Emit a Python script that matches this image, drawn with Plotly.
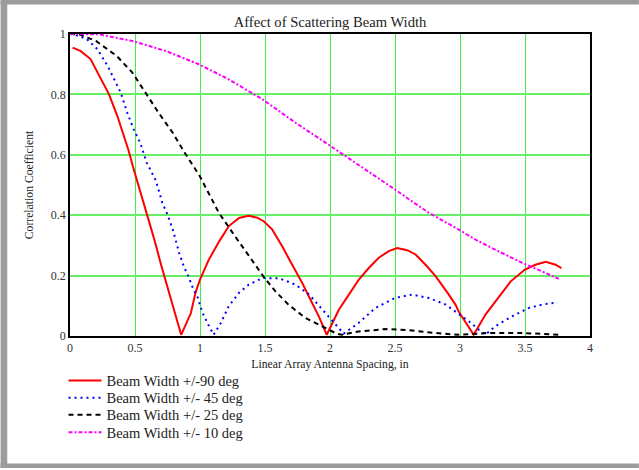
import plotly.graph_objects as go

# Beam Width +/-90 deg (red, solid)
x90 = [0.02, 0.08, 0.158, 0.235, 0.30, 0.363, 0.45, 0.49, 0.542, 0.594, 0.645, 0.70, 0.75, 0.79, 0.855,
       0.93, 0.965, 1.0, 1.068, 1.15, 1.222, 1.30, 1.375, 1.44, 1.49, 1.555, 1.632, 1.709, 1.786,
       1.85, 1.914, 1.975,
       2.068, 2.145, 2.222, 2.30, 2.375, 2.452, 2.517, 2.594, 2.658, 2.735, 2.812, 2.914, 2.965,
       2.991, 3.105,
       3.196, 3.30, 3.39, 3.50, 3.58, 3.66, 3.735, 3.78]
y90 = [0.955, 0.944, 0.917, 0.856, 0.80, 0.73, 0.615, 0.552, 0.474, 0.405, 0.325, 0.237, 0.162, 0.098, 0.004,
       0.076, 0.143, 0.187, 0.253, 0.315, 0.364, 0.391, 0.398, 0.392, 0.38, 0.353, 0.297, 0.236, 0.176,
       0.12, 0.065, 0.004,
       0.087, 0.137, 0.187, 0.226, 0.259, 0.281, 0.291, 0.284, 0.27, 0.236, 0.198, 0.137, 0.104,
       0.08, 0.004,
       0.071, 0.131, 0.181, 0.22, 0.236, 0.246, 0.236, 0.225]

# Beam Width +/- 45 deg (blue, dotted)
x45 = [0.0, 0.03, 0.13, 0.21, 0.29, 0.35, 0.39, 0.44, 0.49, 0.54, 0.59, 0.66, 0.71, 0.75, 0.79,
       0.84, 0.875, 0.91, 0.95, 0.98, 1.02, 1.07, 1.105, 1.16, 1.22, 1.30, 1.375, 1.48, 1.61,
       1.735, 1.84, 1.93, 1.99, 2.07, 2.105, 2.22, 2.35, 2.50, 2.63, 2.76, 2.89, 2.98, 3.07,
       3.145, 3.195, 3.27, 3.40, 3.53, 3.63, 3.75]
y45 = [1.0, 0.999, 0.983, 0.95, 0.894, 0.839, 0.806, 0.74, 0.684, 0.64, 0.574, 0.515, 0.441, 0.402, 0.353,
       0.275, 0.231, 0.198, 0.154, 0.131, 0.076, 0.032, 0.004, 0.043, 0.098, 0.143, 0.17, 0.192, 0.191,
       0.17, 0.137, 0.093, 0.065, 0.027, 0.008, 0.043, 0.093, 0.126, 0.137, 0.126, 0.104, 0.076, 0.048,
       0.021, 0.004, 0.032, 0.065, 0.093, 0.104, 0.111]

# Beam Width +/- 25 deg (black, dashed)
x25 = [0.0, 0.07, 0.20, 0.36, 0.48, 0.58, 0.68, 0.79, 0.885, 0.995, 1.145, 1.27, 1.43, 1.49,
       1.58, 1.68, 1.81, 1.94, 2.0, 2.05, 2.09, 2.22, 2.43, 2.61, 2.81, 2.99, 3.22, 3.48, 3.78]
y25 = [1.0, 0.999, 0.977, 0.927, 0.872, 0.806, 0.74, 0.673, 0.605, 0.532, 0.408, 0.33, 0.231, 0.196,
       0.148, 0.104, 0.06, 0.032, 0.021, 0.008, 0.004, 0.015, 0.023, 0.019, 0.01, 0.004, 0.01, 0.01, 0.004]

# Beam Width +/- 10 deg (magenta, dash-dot)
x10 = [0.0, 0.22, 0.48, 0.735, 0.99, 1.22, 1.48, 1.735, 1.98, 2.12, 2.27, 2.42, 2.50, 2.63,
       2.76, 2.98, 3.12, 3.27, 3.48, 3.63, 3.76]
y10 = [1.0, 0.999, 0.977, 0.944, 0.9, 0.85, 0.784, 0.706, 0.636, 0.596, 0.552, 0.51, 0.485, 0.446,
       0.408, 0.355, 0.319, 0.286, 0.242, 0.214, 0.189]

series_names = ["Beam Width +/-90 deg", "Beam Width +/- 45 deg",
                "Beam Width +/- 25 deg", "Beam Width +/- 10 deg"]

x_ticks = [0, 0.5, 1, 1.5, 2, 2.5, 3, 3.5, 4]
x_tick_labels = ["0", "0.5", "1", "1.5", "2", "2.5", "3", "3.5", "4"]
y_ticks = [0, 0.2, 0.4, 0.6, 0.8, 1]
y_tick_labels = ["0", "0.2", "0.4", "0.6", "0.8", "1"]

FONT = "Liberation Serif"

W, H = 639, 470
L, R, T, B = 69.5, 49, 34, 133.5
pw, ph = W - L - R, H - T - B


def px_x(p):
    return (p - L) / pw


def px_y(p):
    return (H - B - p) / ph


fig = go.Figure()
styles = [dict(color="#ff0000", width=2),
          dict(color="#0000ff", width=2, dash="2px,4px"),
          dict(color="#000000", width=2, dash="5px,4px"),
          dict(color="#ff00ff", width=2, dash="4px,2px,2px,2px")]
data = [(x90, y90), (x45, y45), (x25, y25), (x10, y10)]
legend_ids = ["legend", "legend2", "legend3", "legend4"]
for (xs, ys), nm, st, lg in zip(data, series_names, styles, legend_ids):
    fig.add_trace(go.Scatter(x=xs, y=ys, mode="lines", name=nm, line=st, legend=lg))

row_centers = [380, 397.3, 414.5, 432]
legend_layout = {}
for lg, c in zip(legend_ids, row_centers):
    legend_layout[lg] = dict(x=px_x(63), xanchor="left", y=px_y(c - 15), yanchor="top",
                             font=dict(family=FONT, size=14.5, color="#222222"),
                             bgcolor="rgba(0,0,0,0)", borderwidth=0, itemwidth=33)

gray = "#9c9c9c"
shapes = [
    dict(type="rect", xref="paper", yref="paper", x0=px_x(0), x1=px_x(W), y0=px_y(4.5), y1=px_y(0),
         fillcolor=gray, line=dict(width=0), layer="below"),
    dict(type="rect", xref="paper", yref="paper", x0=px_x(0), x1=px_x(W), y0=px_y(468.7), y1=px_y(464.3),
         fillcolor=gray, line=dict(width=0), layer="below"),
    dict(type="rect", xref="paper", yref="paper", x0=px_x(0), x1=px_x(6.7), y0=px_y(468.7), y1=px_y(0),
         fillcolor=gray, line=dict(width=0), layer="below"),
]

fig.update_layout(
    width=W, height=H,
    margin=dict(l=L, r=R, t=T, b=B),
    paper_bgcolor="white", plot_bgcolor="white",
    font=dict(family=FONT, size=12, color="#222222"),
    title=dict(text="Affect of Scattering Beam Width", x=0.5, xref="paper", xanchor="center",
               y=1 - 22 / H, yref="container", yanchor="middle",
               font=dict(family=FONT, size=14.6, color="#222222")),
    xaxis=dict(range=[0, 4], tickvals=x_ticks, ticktext=x_tick_labels,
               showgrid=True, gridcolor="#44ee44", gridwidth=1.2,
               showline=True, linecolor="#000000", linewidth=1.5, mirror=True,
               zeroline=False, ticks="", tickfont=dict(family=FONT, size=12, color="#333333"),
               title=dict(text="Linear Array Antenna Spacing, in",
                          font=dict(family=FONT, size=11.7, color="#222222"), standoff=6)),
    yaxis=dict(range=[0, 1], tickvals=y_ticks, ticktext=y_tick_labels,
               showgrid=True, gridcolor="#66ee66", gridwidth=2,
               showline=True, linecolor="#000000", linewidth=1.5, mirror=True,
               zeroline=False, ticks="", tickfont=dict(family=FONT, size=12, color="#333333"),
               title=dict(text="Correlation Coefficient",
                          font=dict(family=FONT, size=11.7, color="#222222"), standoff=15)),
    showlegend=True,
    shapes=shapes,
    **legend_layout,
)

fig.write_html("out.html")
